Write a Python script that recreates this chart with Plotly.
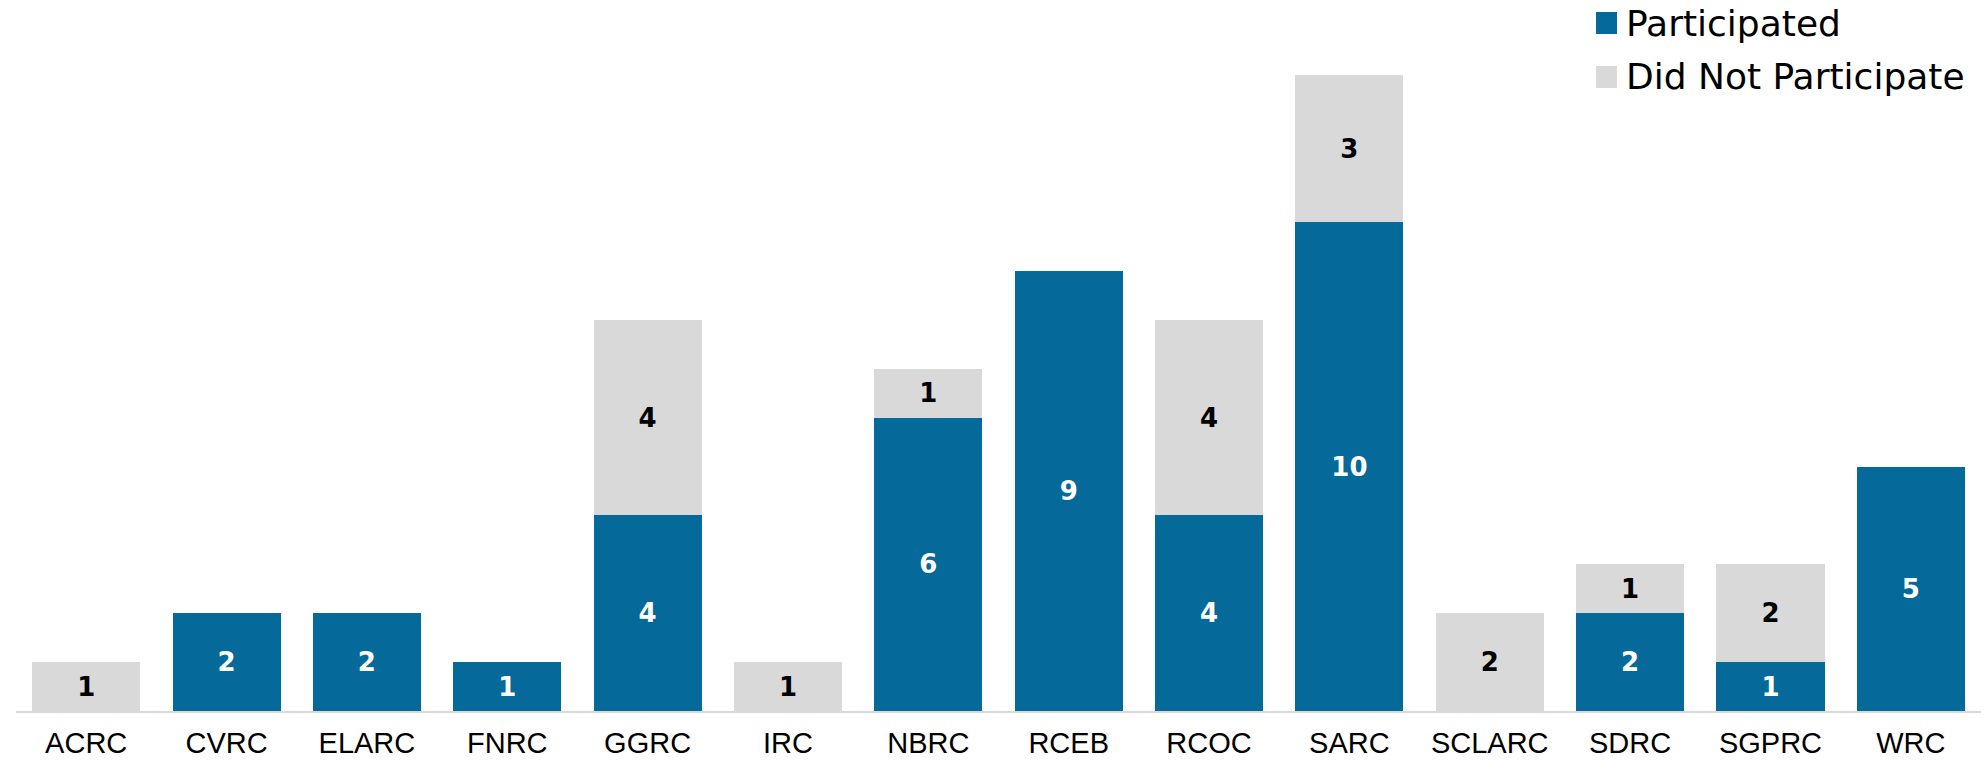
import plotly.graph_objects as go

# Regional centers and counts
centers = ["ACRC", "CVRC", "ELARC", "FNRC", "GGRC", "IRC", "NBRC",
           "RCEB", "RCOC", "SARC", "SCLARC", "SDRC", "SGPRC", "WRC"]
participated = [0, 2, 2, 1, 4, 0, 6, 9, 4, 10, 0, 2, 1, 5]
did_not_participate = [1, 0, 0, 0, 4, 1, 1, 0, 4, 3, 2, 1, 2, 0]

series_names = ["Participated", "Did Not Participate"]
BLUE = "#05699A"
GREY = "#D9D9D9"

W, H = 1985, 761
ML, MR, MT, MB = 16, 4, 20, 50
PW, PH = W - ML - MR, H - MT - MB


def labels(values):
    return [str(v) if v else "" for v in values]


fig = go.Figure()
fig.add_trace(go.Bar(
    x=centers, y=participated, name=series_names[0],
    marker=dict(color=BLUE, line=dict(width=0)),
    text=labels(participated), textposition="inside",
    insidetextanchor="middle", textangle=0,
    textfont=dict(family="DejaVu Sans", size=26, color="white", weight="bold"),
    hoverinfo="skip",
))
fig.add_trace(go.Bar(
    x=centers, y=did_not_participate, name=series_names[1],
    marker=dict(color=GREY, line=dict(width=0)),
    text=labels(did_not_participate), textposition="inside",
    insidetextanchor="middle", textangle=0,
    textfont=dict(family="DejaVu Sans", size=26, color="black", weight="bold"),
    hoverinfo="skip",
))


# Legend drawn as squares plus text, positioned in pixels
def px_x(px):
    return (px - ML) / PW


def px_y(py):
    return (H - MB - py) / PH


shapes = []
annotations = []
for i, (name, color) in enumerate(zip(series_names, [BLUE, GREY])):
    cy = 23 + i * 54
    shapes.append(dict(
        type="rect", xref="paper", yref="paper",
        x0=px_x(1596), x1=px_x(1617), y0=px_y(cy - 11), y1=px_y(cy + 11),
        fillcolor=color, line=dict(width=0),
    ))
    annotations.append(dict(
        xref="paper", yref="paper", x=px_x(1624), y=px_y(cy),
        xanchor="left", yanchor="middle", text=name, showarrow=False,
        font=dict(family="DejaVu Sans", size=36, color="black"),
    ))

fig.update_layout(
    width=W, height=H,
    margin=dict(l=ML, r=MR, t=MT, b=MB, pad=0),
    barmode="stack", bargap=0.23,
    plot_bgcolor="white", paper_bgcolor="white",
    showlegend=False,
    shapes=shapes, annotations=annotations,
    xaxis=dict(
        showline=True, linecolor=GREY, linewidth=2,
        showgrid=False, ticks="", ticklabelstandoff=5, automargin=False,
        tickfont=dict(family="Liberation Sans", size=29, color="black"),
    ),
    yaxis=dict(
        range=[0, PH / 48.9], visible=False, showgrid=False, zeroline=False,
        automargin=False,
    ),
)

fig.write_html("out.html")
